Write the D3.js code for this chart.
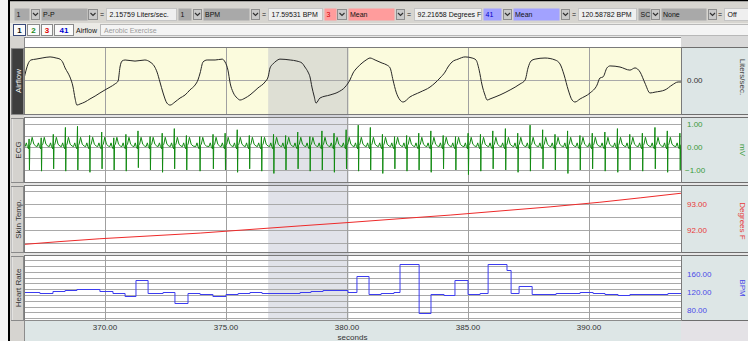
<!DOCTYPE html>
<html><head><meta charset="utf-8">
<script src="https://cdn.jsdelivr.net/npm/d3@7"></script>
<style>
body{margin:0;background:#fff;overflow:hidden}
svg{display:block}
text{font-family:"Liberation Sans",Arial,sans-serif;font-size:8px}
text.tb{font-size:7px}
</style>
</head><body>
<svg id="c" width="748" height="341"></svg>
<script>
// ---------------- DATA ----------------
const timeDomain = [366.653, 393.80];        // seconds visible
const xTicks = [370, 375, 380, 385, 390];
const selection = [376.74, 380.08];

const channelNames = ["Airflow", "ECG", "Skin Temp.", "Heart Rate"];
const channelUnits = ["Liters/sec.", "mV", "Degrees F", "BPM"];

// Airflow (L/s)
const airflowT = [366.65,366.74,366.82,366.94,367.15,367.40,367.73,367.98,368.14,368.27,368.35,368.47,368.55,368.68,368.76,368.84,368.97,369.17,369.38,369.59,369.79,370.00,370.21,370.41,370.54,370.62,370.70,370.83,371.24,371.65,371.86,372.03,372.15,372.27,372.40,372.56,372.69,372.89,373.10,373.31,373.51,373.72,373.84,373.93,374.05,374.22,374.55,374.84,374.96,375.08,375.17,375.29,375.46,375.58,375.79,375.99,376.32,376.61,376.74,376.82,376.94,377.07,377.23,377.65,377.93,378.14,378.26,378.39,378.47,378.55,378.64,378.72,378.88,379.30,379.63,379.92,380.12,380.25,380.41,380.62,380.79,380.95,381.16,381.45,381.65,381.78,381.90,382.03,382.19,382.32,382.60,383.02,383.43,383.84,384.05,384.17,384.34,384.59,384.88,385.17,385.33,385.46,385.58,385.70,385.79,385.91,386.32,386.74,387.15,387.36,387.48,387.60,387.77,388.18,388.60,388.80,388.97,389.14,389.30,389.42,389.63,390.04,390.33,390.45,390.58,390.74,390.87,391.28,391.69,391.90,392.11,392.31,392.52,392.73,393.14,393.43,393.68,393.80];
const airflowV = [0.05,0.45,0.73,0.91,0.95,1.00,1.05,1.00,0.95,0.77,0.55,0.32,0.14,-0.32,-0.82,-1.14,-1.09,-1.00,-0.86,-0.73,-0.59,-0.45,-0.32,-0.18,-0.05,0.59,0.86,0.91,0.86,0.91,0.82,0.64,0.36,-0.09,-0.59,-1.05,-1.14,-1.00,-0.82,-0.68,-0.45,-0.23,0.00,0.32,0.82,0.91,0.91,0.95,0.82,0.45,-0.14,-0.55,-0.82,-0.91,-0.82,-0.68,-0.36,-0.09,0.14,0.55,0.73,0.86,0.95,0.91,0.86,0.77,0.59,0.36,0.14,-0.32,-0.73,-1.05,-0.82,-0.68,-0.55,-0.32,0.00,0.32,0.55,0.77,0.91,1.00,0.91,0.77,0.68,0.55,0.00,-0.55,-0.91,-1.00,-0.77,-0.55,-0.32,0.09,0.36,0.59,0.82,0.95,1.05,1.00,0.91,0.45,-0.23,-0.68,-0.91,-0.86,-0.68,-0.45,-0.18,0.00,0.55,0.86,0.95,1.00,0.91,0.73,0.23,-0.45,-0.91,-1.00,-0.86,-0.59,-0.23,0.09,0.14,0.55,0.64,0.59,0.45,0.55,0.36,-0.14,-0.59,-0.55,-0.45,-0.23,-0.09,-0.09];

// ECG (mV): beat times, R heights, S depths, and one beat's shape
const ecgBeatT = [366.37,366.87,367.37,367.87,368.37,368.87,369.37,369.87,370.37,370.87,371.37,371.87,372.37,372.87,373.37,
  373.92,374.47,
  374.97,375.47,375.97,376.47,376.97,377.47,377.97,378.47,378.97,379.47,379.97,380.47,380.97,381.47,381.97,382.47,382.97,383.47,383.98,
  384.49,385.01,385.52,386.03,386.55,387.06,387.57,388.09,388.60,389.12,389.63,390.14,390.66,
  391.18,391.69,392.21,392.73,393.24,393.76];
const ecgR = [0.45,0.35,0.40,0.55,0.85,0.90,0.50,0.65,0.40,0.55,
  0.70,0.45,0.60,0.80,0.50,0.45,0.55,0.60,0.75,0.50,
  0.45,0.55,0.50,0.65,0.45,0.70,0.60,0.75,0.95,0.85,
  0.55,0.45,0.50,0.60,0.70,0.50,0.45,0.60,0.55,0.70,
  0.80,0.60,0.95,0.75,0.55,0.70,0.50,0.60,0.65,0.80,
  0.55,0.60,0.85,0.70,0.60];
const ecgS = [-0.90,-1.00,-1.05,-0.95,-1.05,-1.00,-1.10,-0.95,-1.00,-1.05,
  -0.90,-1.00,-1.10,-0.95,-1.00,-1.05,-0.95,-1.00,-1.10,-0.95,
  -1.05,-1.15,-1.00,-0.95,-1.05,-1.00,-1.10,-0.95,-1.05,-1.00,
  -1.15,-0.95,-1.05,-1.00,-1.10,-0.95,-1.00,-1.20,-1.05,-0.95,
  -1.00,-1.10,-1.05,-0.95,-1.00,-1.15,-1.00,-0.95,-1.05,-1.10,
  -1.00,-1.05,-0.95,-1.10,-1.00];
const ecgShapeDt = [-0.17,-0.12,-0.08,-0.03,-0.006,0.008,0.024,0.06,0.12,0.19,0.27];
const ecgShapeV  = [0.02, 0.18, 0.02,-0.08, null,  null, 0.08, 0.12,0.42,0.12,0.04];
const ecgRIndex = 4, ecgSIndex = 5;

// Skin temperature (deg F)
const tempT = [366.65,368.14,369.79,371.86,373.93,375.99,378.06,380.04,382.19,384.26,386.32,388.39,390.45,392.11,393.80];
const tempV = [91.44,91.55,91.66,91.77,91.88,92.02,92.16,92.29,92.44,92.58,92.74,92.90,93.08,93.25,93.43];

// Heart rate (BPM), step values starting at each time
const hrT = [366.65,367.31,367.85,368.35,368.84,369.79,370.33,370.83,371.28,371.78,372.40,372.89,373.43,373.93,374.46,375.00,375.50,375.99,376.49,378.06,378.51,379.01,380.04,380.41,380.91,381.41,381.94,382.19,382.98,383.47,384.01,384.46,385.00,385.50,385.83,386.61,386.78,387.11,387.65,388.64,389.63,390.17,390.66,391.20,391.69,393.26,393.80];
const hrV = [120,118.5,122.2,125,126.6,122.2,118.5,111.9,146.9,119.1,120,96.6,118.5,117,111.9,116.3,119.1,121.3,118.5,120,122.2,124.4,120.7,156.2,116.9,119.1,121.3,182.4,75.5,116.3,114.1,146.2,116.9,119.1,182.4,168.7,119.1,133.8,116.9,119.1,121.3,119.1,116.3,114.1,116.3,118.5,118.5];

// Axis ticks / grids
const airflowTicks = [0], airflowGrid = [0];
const ecgTicks = [1, 0, -1], ecgGrid = [-1, -0.5, 0, 0.5, 1];
const tempTicks = [93, 92], tempGrid = [91.5, 92, 92.5, 93, 93.5];
const hrTicks = [160, 120, 80], hrGrid = [63.2, 75.9, 88.6, 101.3, 114.0, 126.7, 139.4, 152.1, 164.8, 177.5, 190.2];

// Measurement toolbar texts
const measChannels = ["1", "1", "3", "41", "SC"];
const measTypes = ["P-P", "BPM", "Mean", "Mean", "None"];
const measValues = ["2.15759 Liters/sec.", "17.59531 BPM", "92.21658 Degrees F", "120.58782 BPM", "Off"];
const channelButtons = ["1", "2", "3", "41"];
const journalText = "Aerobic Exercise";

// ---------------- DRAW ----------------
const svg = d3.select("#c");
const X0 = 24, X1 = 681;
const x = d3.scaleLinear().domain(timeDomain).range([X0, X1]);
const fmt = d3.format(".2f");

// frame
svg.append("rect").attr("x",0).attr("y",0).attr("width",748).attr("height",341).attr("fill","#f6f6f6");
svg.append("rect").attr("x",10).attr("y",0).attr("width",738).attr("height",341).attr("fill","#e6e6e6");
svg.append("rect").attr("x",8).attr("y",0).attr("width",2).attr("height",341).attr("fill","#000");
svg.append("rect").attr("x",8).attr("y",0).attr("width",740).attr("height",1.5).attr("fill","#000");

// Toolbar row 1
svg.append("rect").attr("x",10).attr("y",1.5).attr("width",738).attr("height",21.5).attr("fill","#d7d5d0");
const r1y0 = 8, r1y1 = 21;
function box(x0,x1,y0,y1,fill,stroke){
  svg.append("rect").attr("x",x0+0.5).attr("y",y0+0.5).attr("width",x1-x0-1).attr("height",y1-y0-1)
    .attr("fill",fill).attr("stroke",stroke||"none");
}
function label(tx,ty,s,color,anchor,weight,cls){
  return svg.append("text").attr("class",cls||null).attr("x",tx).attr("y",ty).attr("fill",color||"#111")
    .attr("text-anchor",anchor||"start").attr("font-weight",weight||"normal").text(s);
}
function arrowBtn(x0,x1){
  box(x0,x1,r1y0+1,r1y1-1,"#c9c9c9","#8d8d8d");
  const cx=(x0+x1)/2, cy=(r1y0+r1y1)/2;
  svg.append("path").attr("d",`M${cx-2.5},${cy-1.5}L${cx},${cy+1}L${cx+2.5},${cy-1.5}`)
    .attr("fill","none").attr("stroke","#333").attr("stroke-width",1.2);
}
const groups = [
  {ch:[14,30],ar1:[31,40],ty:[41,88],ar2:[88,98],eq:102,val:[106,177],fill:"#a9a9a9",chColor:"#111"},
  {ch:[178,192],ar1:[193,202],ty:[203,250],ar2:[251,260],eq:264,val:[268,323],fill:"#a9a9a9",chColor:"#111"},
  {ch:[324,337],ar1:[337,347],ty:[348,395],ar2:[396,405],eq:409,val:[414,482],fill:"#ff9c9c",chColor:"#d00000"},
  {ch:[483,502],ar1:[503,512],ty:[513,560],ar2:[561,570],eq:574,val:[578,637],fill:"#a2a2ff",chColor:"#0000c8"},
  {ch:[638,651],ar1:[651,660],ty:[661,707],ar2:[708,717],eq:720,val:[724,760],fill:"#a9a9a9",chColor:"#111"}
];
groups.forEach((g,i)=>{
  box(g.ch[0],g.ch[1],r1y0,r1y1,g.fill,null);
  label(g.ch[0]+2.5,17.3,measChannels[i],g.chColor,"start","normal","tb");
  arrowBtn(g.ar1[0],g.ar1[1]);
  box(g.ty[0],g.ty[1],r1y0,r1y1,g.fill,null);
  label(g.ty[0]+2,17.3,measTypes[i],"#111","start","normal","tb");
  arrowBtn(g.ar2[0],g.ar2[1]);
  label(g.eq,17.3,"=","#111","middle","normal","tb");
  box(g.val[0],g.val[1],r1y0,r1y1,"#efefef","#c4c4c4");
  label(g.val[0]+3.5,17.3,measValues[i],"#111","start","normal","tb");
});

// Toolbar row 2
svg.append("rect").attr("x",10).attr("y",23).attr("width",738).attr("height",13).attr("fill","#ebeae6");
const btnX = [[13,26],[27,40],[41,53],[54,74]];
const btnCol = ["#111","#1a8a1a","#e00000","#0000d0"];
channelButtons.forEach((b,i)=>{
  box(btnX[i][0],btnX[i][1],24,36,"#fbfbfb",i===0?"#3a4a7a":"#8a8a8a");
  label((btnX[i][0]+btnX[i][1])/2,33,b,btnCol[i],"middle","bold");
});
label(76,33,channelNames[0],"#111","start","normal","tb");
box(100,749,24,36,"#f4f4f4","#b8b8b8");
label(104,33,journalText,"#9a9a9a","start","normal","tb");

// Left label strip
svg.append("rect").attr("x",10).attr("y",36).attr("width",14).attr("height",305).attr("fill","#d6d4d0");

// top white strip
box(24,682,37,48,"#ffffff","#8c8c8c");
svg.append("rect").attr("x",681).attr("y",36).attr("width",67).attr("height",12).attr("fill","#d9d9d9");

// panels
const panels = [
  {top:48,bottom:114,domain:[-1.545,1.455],grid:airflowGrid,ticks:airflowTicks,tickColor:"#333",unitColor:"#444",bg:"#fbfbdd",lblBg:"#3e3e3e",lblColor:"#f2f2f2",unitY:77},
  {top:118,bottom:182,domain:[-1.522,1.261],grid:ecgGrid,ticks:ecgTicks,tickColor:"#3a9a3a",unitColor:"#3a9a3a",bg:"#ffffff",lblBg:"#d4d2ce",lblColor:"#333",unitY:150},
  {top:186,bottom:252,domain:[91.144,93.712],grid:tempGrid,ticks:tempTicks,tickColor:"#e83a3a",unitColor:"#e83a3a",bg:"#ffffff",lblBg:"#d4d2ce",lblColor:"#333",unitY:221},
  {top:256,bottom:320,domain:[59.52,199.26],grid:hrGrid,ticks:hrTicks,tickColor:"#4a4ae8",unitColor:"#4a4ae8",bg:"#ffffff",lblBg:"#d4d2ce",lblColor:"#333",unitY:288}
];
panels.forEach((p,i)=>{
  p.y = d3.scaleLinear().domain(p.domain).range([p.bottom,p.top]);
  svg.append("rect").attr("x",X0).attr("y",p.top).attr("width",X1-X0).attr("height",p.bottom-p.top).attr("fill",p.bg);
  box(681,749,p.top-1,p.bottom+1,"#dde6e6","#6e6e6e");
  box(11,24,p.top,p.bottom+1,p.lblBg,"#8a8a8a");
  svg.append("line").attr("x1",12).attr("x2",12).attr("y1",p.top+1).attr("y2",p.bottom).attr("stroke",i===0?"#5a5a5a":"#f4f4f4");
  svg.append("text").attr("transform",`translate(17.8,${(p.top+p.bottom)/2}) rotate(-90)`)
    .attr("text-anchor","middle").attr("dy","0.35em").attr("fill",p.lblColor).text(channelNames[i]);
  svg.append("text").attr("transform",`translate(742.5,${p.unitY}) rotate(90)`)
    .attr("text-anchor","middle").attr("dy","0.35em").attr("fill",p.unitColor).text(channelUnits[i]);
  p.ticks.forEach(v=>{
    svg.append("text").attr("x",v<0?685:687).attr("y",p.y(v)).attr("dy","0.35em").attr("fill",p.tickColor).text(fmt(v));
  });
});

// selection overlay
svg.append("rect").attr("x",x(selection[0])).attr("y",48).attr("width",x(selection[1])-x(selection[0])).attr("height",272)
  .attr("fill","rgb(176,178,196)").attr("opacity",0.38);

// grids
panels.forEach(p=>{
  p.grid.forEach(v=>{
    const yy = Math.round(p.y(v))+0.5;
    svg.append("line").attr("x1",X0).attr("x2",X1).attr("y1",yy).attr("y2",yy).attr("stroke","#a9a9a9").attr("stroke-width",1);
  });
  xTicks.forEach(t=>{
    const xx = Math.round(x(t))+0.5;
    svg.append("line").attr("x1",xx).attr("x2",xx).attr("y1",p.top).attr("y2",p.bottom).attr("stroke","#a0a0a0");
  });
  svg.append("rect").attr("x",X0+0.5).attr("y",p.top-0.5).attr("width",X1-X0).attr("height",p.bottom-p.top+1)
    .attr("fill","none").attr("stroke","#7a7a7a");
});

// clip paths
const defs = svg.append("defs");
panels.forEach((p,i)=>{
  defs.append("clipPath").attr("id","clip"+i).append("rect")
    .attr("x",X0+1).attr("y",p.top).attr("width",X1-X0-1).attr("height",p.bottom-p.top);
});

// Airflow
const airData = airflowT.map((t,i)=>[t,airflowV[i]]);
svg.append("path").attr("clip-path","url(#clip0)")
  .attr("d",d3.line().curve(d3.curveMonotoneX).x(d=>x(d[0])).y(d=>panels[0].y(d[1]))(airData))
  .attr("fill","none").attr("stroke","#262626").attr("stroke-width",1);

// ECG
const ecgData = [];
ecgBeatT.forEach((tb,i)=>{
  ecgShapeDt.forEach((dt,j)=>{
    const v = j===ecgRIndex ? ecgR[i] : (j===ecgSIndex ? ecgS[i] : ecgShapeV[j]);
    ecgData.push([tb+dt,v]);
  });
});
svg.append("path").attr("clip-path","url(#clip1)")
  .attr("d",d3.line().x(d=>x(d[0])).y(d=>panels[1].y(d[1]))(ecgData))
  .attr("fill","none").attr("stroke","#118a11").attr("stroke-width",1);

// Temp
const tempData = tempT.map((t,i)=>[t,tempV[i]]);
svg.append("path").attr("clip-path","url(#clip2)")
  .attr("d",d3.line().x(d=>x(d[0])).y(d=>panels[2].y(d[1]))(tempData))
  .attr("fill","none").attr("stroke","#ee2a2a").attr("stroke-width",1);

// HR
const hrData = hrT.map((t,i)=>[t,hrV[i]]);
svg.append("path").attr("clip-path","url(#clip3)")
  .attr("d",d3.line().curve(d3.curveStepAfter).x(d=>x(d[0])).y(d=>Math.round(panels[3].y(d[1]))+0.5)(hrData))
  .attr("fill","none").attr("stroke","#3c3cf0").attr("stroke-width",1);

// bottom axis
box(24,682,320,342,"#dde6e6","#8c8c8c");
svg.append("rect").attr("x",681).attr("y",321).attr("width",67).attr("height",20).attr("fill","#e4e2e6");
xTicks.forEach(t=>{
  svg.append("text").attr("x",x(t)).attr("y",330).attr("text-anchor","middle").attr("fill","#333").text(fmt(t));
});
svg.append("text").attr("x",(X0+X1)/2).attr("y",340).attr("text-anchor","middle").attr("fill","#333").text("seconds");
</script>
</body></html>
